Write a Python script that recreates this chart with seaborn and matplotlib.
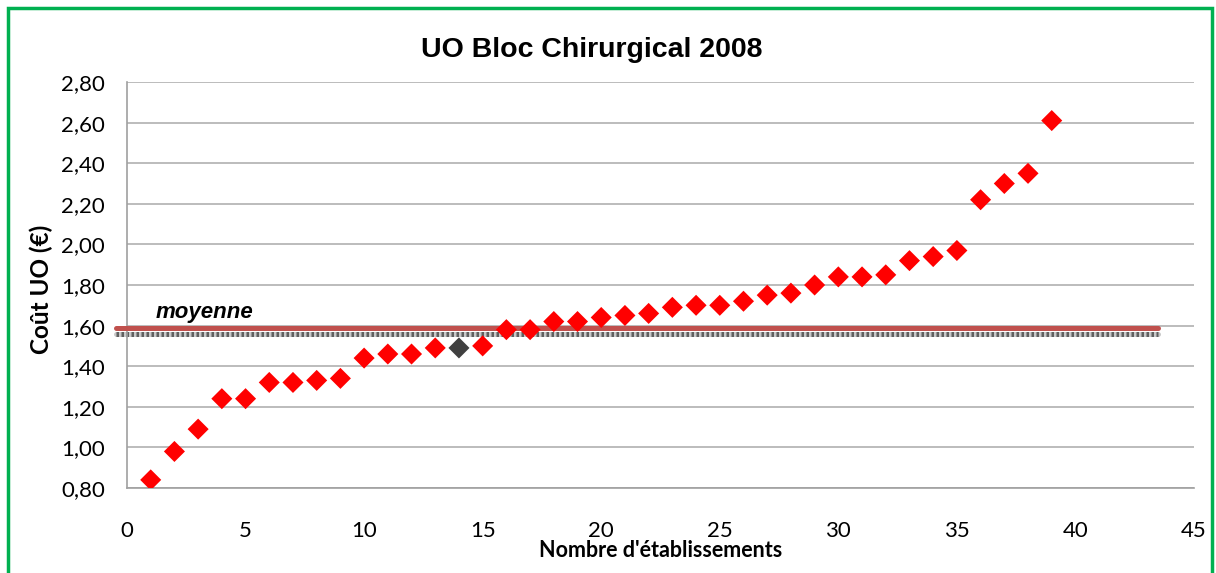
import numpy as np
import pandas as pd
import matplotlib
matplotlib.use('Agg')
import matplotlib.pyplot as plt
from matplotlib.patches import Rectangle
from matplotlib.ticker import FuncFormatter, MultipleLocator
import seaborn as sns

# Data
etablissements = list(range(1, 40))
cout_uo = [0.84, 0.98, 1.09, 1.24, 1.24, 1.32, 1.32, 1.33, 1.34, 1.44,
           1.46, 1.46, 1.49, 1.49, 1.50, 1.58, 1.58, 1.62, 1.62, 1.64,
           1.65, 1.66, 1.69, 1.70, 1.70, 1.72, 1.75, 1.76, 1.80, 1.84,
           1.84, 1.85, 1.92, 1.94, 1.97, 2.22, 2.30, 2.35, 2.61]
groupe = ['autre'] * 39
groupe[13] = 'etablissement'
moyenne = 1.586
moyenne_ref = 1.561
ligne_x = [-0.45, 43.5]

df = pd.DataFrame({'x': etablissements, 'y': cout_uo, 'groupe': groupe})

sns.set_style('white')
plt.rcParams['font.family'] = ['Lato', 'DejaVu Sans']
plt.rcParams['text.color'] = 'black'
plt.rcParams['axes.labelcolor'] = 'black'

fig = plt.figure(figsize=(12.16, 5.73), dpi=100)
ax = fig.add_axes([127 / 1216, 1 - 488 / 573, (1194 - 127) / 1216, (488 - 82) / 573])

# horizontal gridlines
ax.yaxis.grid(True, color='#b0b0b0', linewidth=1.2)
ax.set_axisbelow(True)

# mean lines (hatched grey + red)
ax.plot(ligne_x, [moyenne_ref] * 2, color='#c8c8c8', linewidth=3.6,
        clip_on=False, zorder=2)
ax.plot(ligne_x, [moyenne_ref] * 2, color='#606060', linewidth=3.6,
        linestyle=(0, (0.5, 0.5)), clip_on=False, zorder=2)
ax.plot(ligne_x, [moyenne] * 2, color='#c0504d', linewidth=3.6,
        clip_on=False, zorder=3)

sns.scatterplot(data=df, x='x', y='y', hue='groupe',
                palette={'autre': '#ff0000', 'etablissement': '#404040'},
                marker='D', s=115, linewidth=0, legend=False, ax=ax, zorder=4)

ax.text(1.2, 1.635, 'moyenne', fontsize=16, fontweight='bold', fontstyle='italic',
        family=['Liberation Sans', 'DejaVu Sans'])

ax.set_xlim(0, 45)
ax.set_ylim(0.8, 2.8)
ax.xaxis.set_major_locator(MultipleLocator(5))
ax.yaxis.set_major_locator(MultipleLocator(0.2))
ax.yaxis.set_major_formatter(FuncFormatter(lambda v, p: f'{v:.2f}'.replace('.', ',')))

for side in ['top', 'right']:
    ax.spines[side].set_visible(False)
for side in ['left', 'bottom']:
    ax.spines[side].set_color('#a0a0a0')
    ax.spines[side].set_linewidth(1.2)

ax.tick_params(axis='both', which='major', direction='out', length=7, width=1.2,
               color='#a0a0a0', labelsize=16, labelcolor='black')
ax.tick_params(axis='x', pad=17)
ax.tick_params(axis='y', pad=9)

ax.set_xlabel("Nombre d'établissements", fontsize=15.5, fontweight='bold', labelpad=-1)
ax.set_ylabel('Coût UO (€)', fontsize=17.5, fontweight='bold', va='center')
ax.yaxis.set_label_coords(-0.0806, 0.49)
ax.set_title('UO Bloc Chirurgical 2008', fontsize=20.5, fontweight='bold',
             family=['Liberation Sans', 'DejaVu Sans'], pad=18, x=0.436)

# green frame around the chart
fig.patches.append(Rectangle((8 / 1216, -0.05), 1204 / 1216, 1.05 - 8 / 573,
                             transform=fig.transFigure, fill=False,
                             edgecolor='#00b050', linewidth=2.5))

fig.savefig('out.png', dpi=100)
